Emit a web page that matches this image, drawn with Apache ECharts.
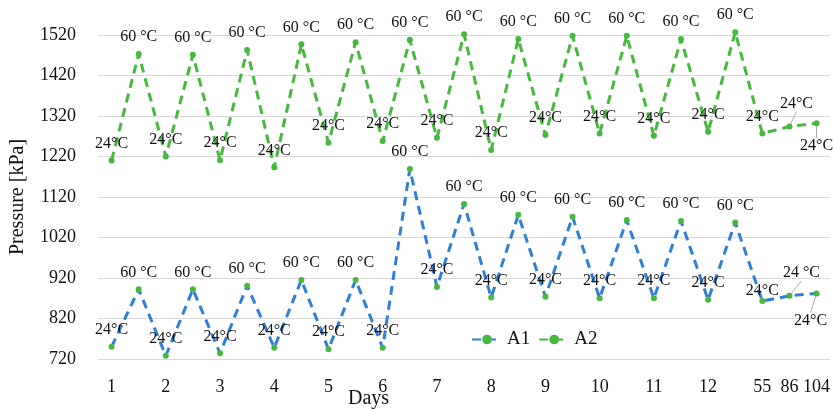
<!DOCTYPE html>
<html>
<head>
<meta charset="utf-8">
<script src="https://cdn.jsdelivr.net/npm/echarts@6/dist/echarts.min.js"></script>
<style>html,body{margin:0;padding:0;background:#fff}#c{width:833px;height:410px}</style>
</head>
<body>
<div id="c"></div>
<script>
var categories = ['1','','2','','3','','4','','5','','6','','7','','8','','9','','10','','11','','12','','55','86','104'];
var a1Values = [750,892,728,892,734,901,748,915,744,915,748,1189,898,1103,872,1076,874,1071,870,1063,870,1061,866,1057,863,876,882];
var a2Values = [1210,1473,1220,1471,1211,1483,1193,1497,1254,1502,1258,1508,1266,1522,1236,1510,1273,1518,1277,1518,1271,1510,1281,1527,1277,1294,1302];
var a1Labels = ['24°C','60 °C','24°C','60 °C','24°C','60 °C','24°C','60 °C','24°C','60 °C','24°C','60 °C','24°C','60 °C','24°C','60 °C','24°C','60 °C','24°C','60 °C','24°C','60 °C','24°C','60 °C','24°C','24 °C','24°C'];
var a2Labels = ['24°C','60 °C','24°C','60 °C','24°C','60 °C','24°C','60 °C','24°C','60 °C','24°C','60 °C','24°C','60 °C','24°C','60 °C','24°C','60 °C','24°C','60 °C','24°C','60 °C','24°C','60 °C','24°C','24°C','24°C'];
var yTicks = [720,820,920,1020,1120,1220,1320,1420,1520];

var BLUE = '#2F7FD8', GREEN = '#46B83E';
var FONT = 'Liberation Serif';

function buildData(values, labels, special) {
  return values.map(function (v, i) {
    var item = { value: v, label: { formatter: labels[i] } };
    if (special[i]) {
      item.label.position = special[i].pos || 'top';
      item.labelLine = { show: !!special[i].line, lineStyle: { color: '#aaa', width: 1 } };
    }
    return item;
  });
}
var a1Special = { 24: {}, 25: { line: true }, 26: { pos: 'bottom', line: true } };
var a2Special = { 25: { line: true }, 26: { pos: 'bottom', line: true } };
var a1Layout = { 24: { dy: 7 }, 25: { dx: 12, dy: -6 }, 26: { dx: -6, dy: 10 } };
var a2Layout = { 25: { dx: 7, dy: -6 }, 26: { dx: 0, dy: 6 } };

function series(name, values, labels, special, layout, color) {
  return {
    name: name,
    type: 'line',
    data: buildData(values, labels, special),
    clip: false,
    symbol: 'circle',
    symbolSize: 6,
    itemStyle: { color: GREEN },
    lineStyle: { color: color, width: 3, type: [9, 6] },
    label: {
      show: true, position: 'top', distance: 6,
      fontFamily: FONT, fontSize: 16, color: '#111'
    },
    labelLayout: function (p) { return layout[p.dataIndex] || {}; },
    emphasis: { disabled: true },
    animation: false
  };
}

var chart = echarts.init(document.getElementById('c'));
chart.setOption({
  animation: false,
  grid: { left: 95, right: 2, top: 35, bottom: 51 },
  legend: {
    left: 466, top: 325,
    itemWidth: 30, itemHeight: 12, itemGap: 8,
    textStyle: { fontFamily: FONT, fontSize: 19, color: '#111' },
    data: ['A1', 'A2']
  },
  xAxis: {
    type: 'category',
    data: categories,
    boundaryGap: true,
    axisLine: { show: false },
    axisTick: { show: false },
    axisLabel: { interval: 0, margin: 19, fontFamily: FONT, fontSize: 18, color: '#111' }
  },
  yAxis: {
    type: 'value',
    min: yTicks[0], max: yTicks[yTicks.length - 1], interval: 100,
    name: 'Pressure [kPa]',
    nameLocation: 'middle', nameGap: 70,
    nameTextStyle: { fontFamily: FONT, fontSize: 20, color: '#111' },
    axisLine: { show: false },
    axisTick: { show: false },
    splitLine: { lineStyle: { color: '#d9d9d9', width: 1 } },
    axisLabel: { margin: 22, fontFamily: FONT, fontSize: 18, color: '#111',
      formatter: function (v) { return String(v); } }
  },
  graphic: [{
    type: 'text', left: 348, top: 389,
    style: { text: 'Days', fontFamily: FONT, fontSize: 20, fill: '#111' }
  }],
  series: [
    series('A1', a1Values, a1Labels, a1Special, a1Layout, BLUE),
    series('A2', a2Values, a2Labels, a2Special, a2Layout, GREEN)
  ]
});
</script>
</body>
</html>
